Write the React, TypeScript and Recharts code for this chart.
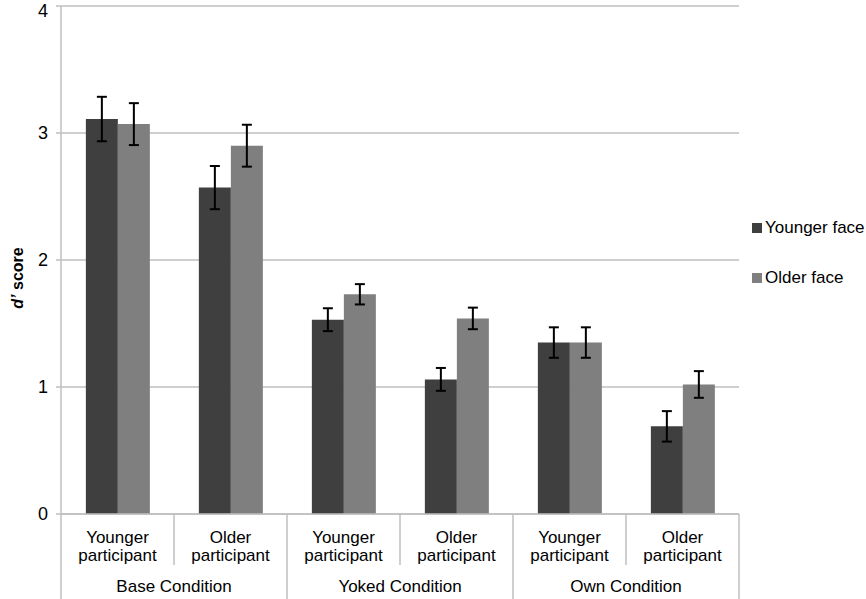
import React from "react";
import {
  Bar,
  BarChart,
  CartesianGrid,
  ErrorBar,
  Legend,
  XAxis,
  YAxis,
} from "recharts";

// values
const conditions = [
  "Base Condition",
  "Base Condition",
  "Yoked Condition",
  "Yoked Condition",
  "Own Condition",
  "Own Condition",
];
const participants = [
  "Younger participant",
  "Older participant",
  "Younger participant",
  "Older participant",
  "Younger participant",
  "Older participant",
];
const seriesNames = ["Younger face", "Older face"];
const youngerFace = [3.11, 2.57, 1.53, 1.06, 1.35, 0.69];
const youngerFaceErr = [0.175, 0.17, 0.09, 0.09, 0.12, 0.12];
const olderFace = [3.07, 2.9, 1.73, 1.54, 1.35, 1.02];
const olderFaceErr = [0.165, 0.165, 0.08, 0.085, 0.12, 0.105];
const yTicks = [0, 1, 2, 3, 4];

const data = participants.map((p, i) => ({
  key: `${conditions[i]}-${p}`,
  participant: p,
  condition: conditions[i],
  young: youngerFace[i],
  youngErr: youngerFaceErr[i],
  old: olderFace[i],
  oldErr: olderFaceErr[i],
}));

const W = 866;
const H = 599;
const MARGIN = { top: 6, right: 127, left: 0, bottom: 0 };
const Y_AXIS_W = 61;
const X_AXIS_H = 85;
const BAND = (W - MARGIN.right - Y_AXIS_W) / data.length;
const LINE = "#bfbfbf";
const FONT = "'Liberation Sans', Arial, sans-serif";
const FS = 17;

function CategoryTick(props: any) {
  const { x, y, index } = props;
  const row = data[index];
  const [first, ...rest] = row.participant.split(" ");
  const left = x - BAND / 2;
  const isGroupStart = index % 2 === 0;
  return (
    <g>
      <line
        x1={left}
        x2={left}
        y1={y}
        y2={y + (isGroupStart ? X_AXIS_H : 51)}
        stroke={LINE}
        strokeWidth={1.5}
      />
      {index === data.length - 1 && (
        <line
          x1={x + BAND / 2}
          x2={x + BAND / 2}
          y1={y}
          y2={y + X_AXIS_H}
          stroke={LINE}
          strokeWidth={1.5}
        />
      )}
      <text x={x} y={y + 29} textAnchor="middle" fontSize={FS} fill="#000">
        {first}
      </text>
      <text x={x} y={y + 47} textAnchor="middle" fontSize={FS} fill="#000">
        {rest.join(" ")}
      </text>
      {!isGroupStart && (
        <text x={left} y={y + 78} textAnchor="middle" fontSize={FS} fill="#000">
          {row.condition}
        </text>
      )}
    </g>
  );
}

function YLabel() {
  return (
    <text
      transform="translate(23, 278) rotate(-90)"
      textAnchor="middle"
      fontSize={16}
      fontWeight="bold"
      fill="#000"
    >
      <tspan fontStyle="italic">d’</tspan>
      <tspan> score</tspan>
    </text>
  );
}

function LegendList(props: any) {
  const { payload = [] } = props;
  const items = [...payload].sort(
    (a: any, b: any) => seriesNames.indexOf(a.value) - seriesNames.indexOf(b.value)
  );
  return (
    <div>
      {items.map((item: any) => (
        <div
          key={item.value}
          style={{
            display: "flex",
            alignItems: "center",
            height: 20,
            marginBottom: 30,
            fontSize: FS,
            color: "#000",
            whiteSpace: "nowrap",
          }}
        >
          <span
            style={{
              width: 10,
              height: 10,
              background: item.color,
              marginRight: 3,
              display: "inline-block",
            }}
          />
          {item.value}
        </div>
      ))}
    </div>
  );
}

export default function App() {
  return (
    <div
      style={{
        position: "absolute",
        left: 0,
        top: 0,
        width: W,
        height: H,
        background: "#fff",
        fontFamily: FONT,
      }}
    >
      <BarChart
        width={W}
        height={H}
        data={data}
        margin={MARGIN}
        barCategoryGap="22%"
        barGap={0}
      >
        <CartesianGrid stroke={LINE} strokeWidth={1.5} vertical={false} />
        <XAxis
          dataKey="key"
          height={X_AXIS_H}
          interval={0}
          tickLine={false}
          tickSize={0}
          tickMargin={0}
          axisLine={{ stroke: LINE, strokeWidth: 1.5 }}
          tick={<CategoryTick />}
        />
        <YAxis
          width={Y_AXIS_W}
          domain={[0, 4]}
          ticks={yTicks}
          tickSize={5}
          tickMargin={8}
          tick={{ fontSize: 18, fill: "#000" }}
          axisLine={{ stroke: LINE, strokeWidth: 1.5 }}
          tickLine={{ stroke: LINE, strokeWidth: 1.5 }}
          label={<YLabel />}
        />
        <YAxis
          yAxisId="frame"
          orientation="right"
          width={0}
          domain={[0, 4]}
          tick={false}
          tickLine={false}
          axisLine={{ stroke: LINE, strokeWidth: 1.5 }}
        />
        <Legend
          layout="horizontal"
          verticalAlign="middle"
          align="center"
          wrapperStyle={{ left: 752, top: 218, width: 114 }}
          content={<LegendList />}
        />
        <Bar
          dataKey="young"
          name={seriesNames[0]}
          fill="#3f3f3f"
          isAnimationActive={false}
        >
          <ErrorBar
            dataKey="youngErr"
            width={5}
            stroke="#000"
            strokeWidth={2}
            isAnimationActive={false}
          />
        </Bar>
        <Bar
          dataKey="old"
          name={seriesNames[1]}
          fill="#7f7f7f"
          isAnimationActive={false}
        >
          <ErrorBar
            dataKey="oldErr"
            width={5}
            stroke="#000"
            strokeWidth={2}
            isAnimationActive={false}
          />
        </Bar>
      </BarChart>
    </div>
  );
}
